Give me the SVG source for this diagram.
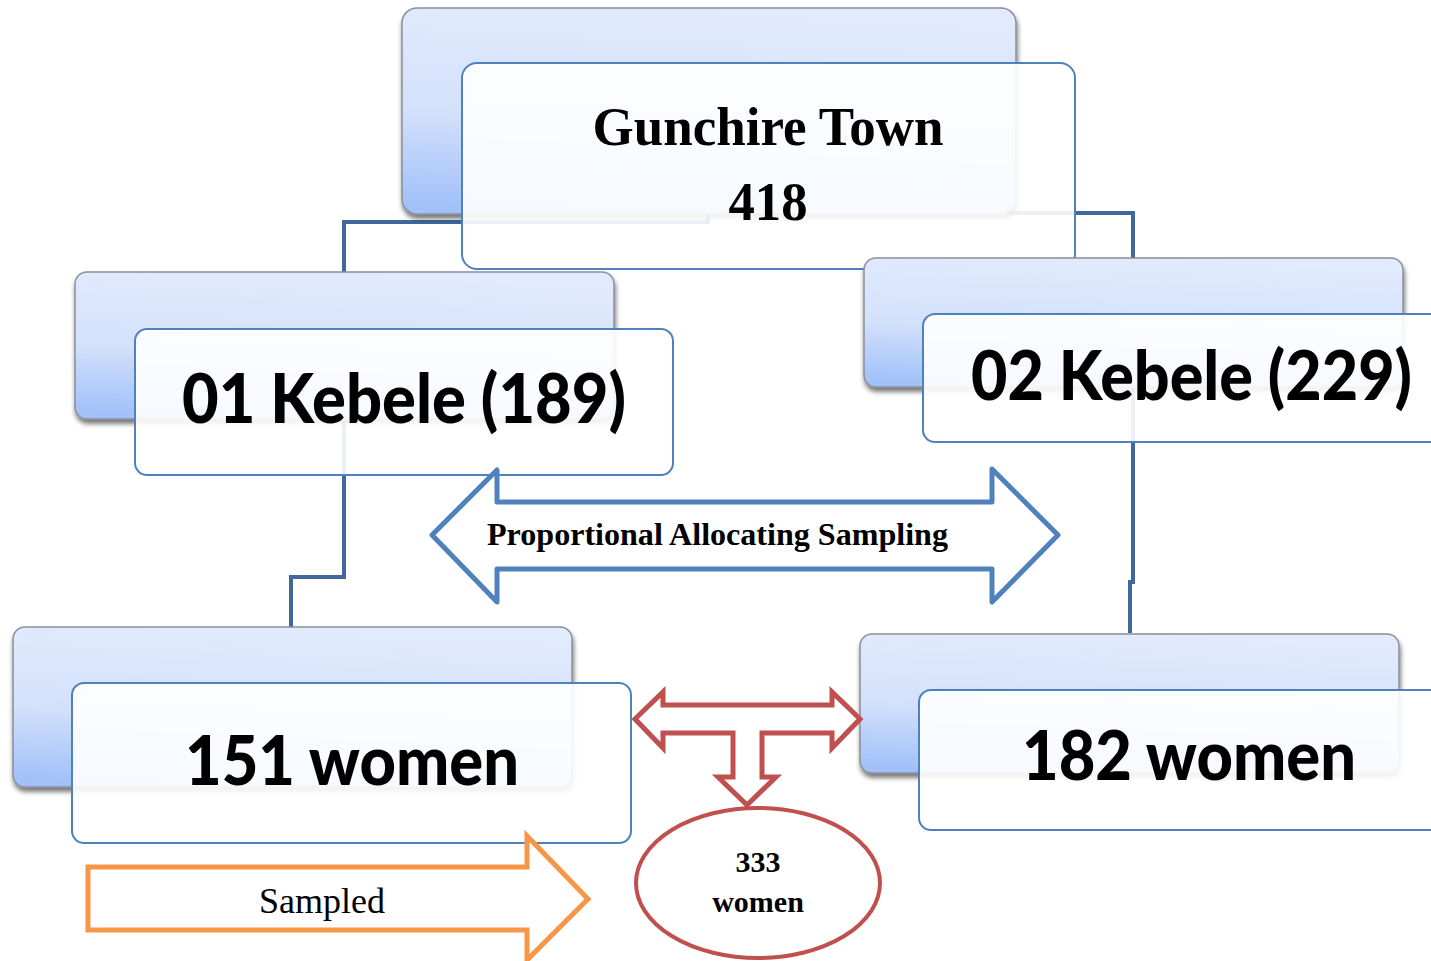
<svg xmlns="http://www.w3.org/2000/svg" width="1431" height="961" viewBox="0 0 1431 961">
<defs>
<linearGradient id="bg" x1="0.5" y1="0" x2="0.35" y2="1">
<stop offset="0" stop-color="#e2ebfd"/>
<stop offset="0.55" stop-color="#d3e1fb"/>
<stop offset="1" stop-color="#a2c1f9"/>
</linearGradient>
<filter id="sh" x="-5%" y="-5%" width="110%" height="115%">
<feGaussianBlur in="SourceAlpha" stdDeviation="2.5"/>
<feOffset dx="1" dy="4" result="o"/>
<feComponentTransfer><feFuncA type="linear" slope="0.55"/></feComponentTransfer>
<feMerge><feMergeNode/><feMergeNode in="SourceGraphic"/></feMerge>
</filter>
</defs>
<style>
.back{fill:url(#bg);stroke:#8a8f99;stroke-width:1.5;filter:url(#sh)}
.front{fill:#ffffff;fill-opacity:0.9;stroke:#4f81bd;stroke-width:2}
.conn{fill:none;stroke:#41689c;stroke-width:4}
.ser{font-family:"Liberation Serif","Times New Roman",serif;font-weight:bold;fill:#000}
.san{font-family:Lato,"Noto Sans",sans-serif;font-weight:900;fill:#000}
</style>
<rect width="1431" height="961" fill="#ffffff"/>
<g id="connectors">
<path class="conn" d="M708,214 V222 H344 V272"/>
<path class="conn" d="M708,213 H1133 V258"/>
<path class="conn" d="M344,419 V577 H291 V627"/>
<path class="conn" d="M1133,387 V582 H1130 V633"/>
</g>
<g id="town">
<rect class="back" x="402" y="8" width="614" height="206" rx="15"/>
<rect class="front" x="462" y="63" width="613" height="206" rx="15"/>
<text class="ser" x="768" y="145" font-size="54" text-anchor="middle" textLength="351" lengthAdjust="spacingAndGlyphs">Gunchire Town</text>
<text class="ser" x="768" y="220" font-size="54" text-anchor="middle" textLength="79" lengthAdjust="spacingAndGlyphs">418</text>
</g>
<g id="kebele01">
<rect class="back" x="75" y="272" width="539" height="147" rx="12"/>
<rect class="front" x="135" y="329" width="538" height="146" rx="12"/>
<text class="san" x="182" y="423" font-size="68" textLength="444" lengthAdjust="spacingAndGlyphs">01 Kebele (189)</text>
</g>
<g id="kebele02">
<rect class="back" x="864" y="258" width="539" height="129" rx="12"/>
<rect class="front" x="923" y="314" width="530" height="128" rx="12"/>
<text class="san" x="971" y="400" font-size="68" textLength="441" lengthAdjust="spacingAndGlyphs">02 Kebele (229)</text>
</g>
<g id="women151">
<rect class="back" x="13" y="627" width="559" height="160" rx="12"/>
<rect class="front" x="72" y="683" width="559" height="160" rx="12"/>
<text class="san" x="185" y="785" font-size="68" textLength="334" lengthAdjust="spacingAndGlyphs">151 women</text>
</g>
<g id="women182">
<rect class="back" x="860" y="634" width="539" height="139" rx="12"/>
<rect class="front" x="919" y="690" width="530" height="140" rx="12"/>
<text class="san" x="1022" y="780" font-size="68" textLength="334" lengthAdjust="spacingAndGlyphs">182 women</text>
</g>
<g id="proportional">
<polygon points="432,535 497,470 497,502 992,502 992,469 1058,535 992,602 992,569 497,569 497,602" fill="#ffffff" stroke="#4f81bd" stroke-width="5" stroke-linejoin="round"/>
<text class="ser" x="487" y="545" font-size="31" textLength="461" lengthAdjust="spacingAndGlyphs">Proportional Allocating Sampling</text>
</g>
<g id="tarrow">
<polygon points="635,719 663,692 663,705 832,705 832,692 860,719 832,748 832,733 762,733 762,777 776,777 747,805 718,777 733,777 733,733 663,733 663,748" fill="#ffffff" stroke="#c0504d" stroke-width="5" stroke-linejoin="miter"/>
</g>
<g id="total">
<ellipse cx="758" cy="883" rx="122" ry="75" fill="#ffffff" stroke="#c0504d" stroke-width="4"/>
<text class="ser" x="758" y="872" font-size="30" text-anchor="middle">333</text>
<text class="ser" x="758" y="912" font-size="30" text-anchor="middle">women</text>
</g>
<g id="sampled">
<polygon points="88,867 527,867 527,836 588,899 527,960 527,930 88,930" fill="#ffffff" stroke="#f79646" stroke-width="5"/>
<text x="322" y="913" font-family="'Liberation Serif','Times New Roman',serif" font-size="36" text-anchor="middle" fill="#000">Sampled</text>
</g>
</svg>
